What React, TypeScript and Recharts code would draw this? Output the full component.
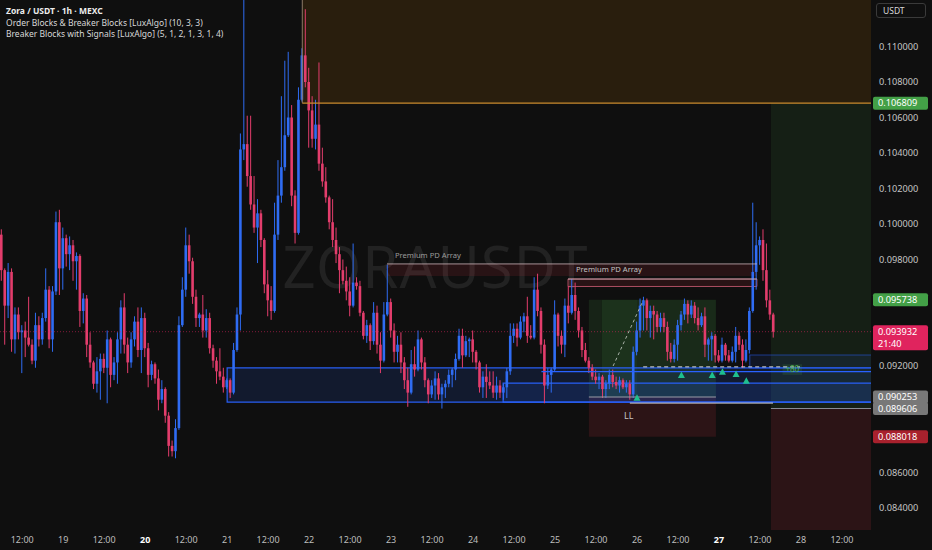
import {
  ComposedChart,
  Bar,
  Scatter,
  XAxis,
  YAxis,
  ReferenceArea,
  ReferenceLine,
  ReferenceDot,
} from "recharts";

// hourly bars, index = hours since 18 Oct 00:00
const FIRST_BAR = 6;

const OPENS = [
  0.0994, 0.0974, 0.0954, 0.0973, 0.0935, 0.0949, 0.0939, 0.094, 0.0936, 0.0932,
  0.0923, 0.0943, 0.0935, 0.0947, 0.0963, 0.0935, 0.0962, 0.1001, 0.0975, 0.0992,
  0.0983, 0.0988, 0.0979, 0.0982, 0.0951, 0.0958, 0.0932, 0.0922, 0.091, 0.0917,
  0.0924, 0.0919, 0.0935, 0.0915, 0.0922, 0.0935, 0.0953, 0.0932, 0.0922, 0.0935,
  0.0945, 0.0929, 0.0947, 0.093, 0.0915, 0.0921, 0.0913, 0.0901, 0.0907, 0.0892,
  0.0875, 0.0872, 0.0885, 0.0943, 0.0963, 0.0988, 0.0979, 0.0959, 0.0947, 0.0949,
  0.094, 0.0947, 0.093, 0.0923, 0.0917, 0.0914, 0.0908, 0.0912, 0.0905, 0.0929,
  0.0949, 0.1042, 0.1045, 0.1027, 0.1011, 0.0998, 0.1006, 0.0991, 0.0966, 0.0957,
  0.0951, 0.0994, 0.1016, 0.1032, 0.105, 0.106, 0.1016, 0.0995, 0.107, 0.1095,
  0.108, 0.1064, 0.1048, 0.1056, 0.1034, 0.1024, 0.1015, 0.1001, 0.0991, 0.0983,
  0.0974, 0.0968, 0.0962, 0.0954, 0.0967, 0.0965, 0.095, 0.0937, 0.0943, 0.0934,
  0.095, 0.0932, 0.0923, 0.0949, 0.0956, 0.094, 0.0928, 0.0932, 0.0922, 0.0912,
  0.0905, 0.0921, 0.0918, 0.0935, 0.0922, 0.0912, 0.0904, 0.0909, 0.0913, 0.0904,
  0.0908, 0.091, 0.0915, 0.0918, 0.0924, 0.0937, 0.0926, 0.0934, 0.0935, 0.0928,
  0.0922, 0.0908, 0.0914, 0.0911, 0.0909, 0.0905, 0.0909, 0.0905, 0.0908, 0.0917,
  0.0937, 0.0941, 0.0936, 0.0945, 0.0948, 0.0937, 0.0936, 0.0963, 0.0951, 0.0932,
  0.0909, 0.0915, 0.0918, 0.0949, 0.0937, 0.0932, 0.0954, 0.095, 0.096, 0.0951,
  0.094, 0.0929, 0.0923, 0.0919, 0.0914, 0.0912, 0.0914, 0.0907, 0.091, 0.0915,
  0.0911, 0.0909, 0.0912, 0.0908, 0.091, 0.0904, 0.0928, 0.094, 0.0954, 0.0957,
  0.0947, 0.0951, 0.0949, 0.0942, 0.0947, 0.0942, 0.0928, 0.0924, 0.0932, 0.0943,
  0.0949, 0.0955, 0.0949, 0.0954, 0.0947, 0.0943, 0.0948, 0.0932, 0.0935, 0.0937,
  0.0926, 0.0923, 0.0932, 0.0926, 0.0923, 0.0928, 0.0937, 0.0932, 0.0923, 0.0929,
  0.0951, 0.0973, 0.0988, 0.0991, 0.0974, 0.0957, 0.0949,
];

const HIGHS = [
  0.0997, 0.0975, 0.0978, 0.0975, 0.0953, 0.0953, 0.0943, 0.0945, 0.0959, 0.0935,
  0.095, 0.0948, 0.095, 0.0975, 0.0965, 0.0965, 0.1007, 0.1008, 0.0998, 0.0994,
  0.0993, 0.0991, 0.0984, 0.0983, 0.0961, 0.096, 0.0939, 0.0923, 0.0925, 0.0927,
  0.0927, 0.094, 0.0936, 0.0925, 0.0939, 0.0957, 0.0961, 0.0936, 0.0939, 0.0948,
  0.0953, 0.0953, 0.095, 0.0933, 0.0923, 0.0922, 0.0918, 0.0912, 0.0908, 0.0894,
  0.0878, 0.089, 0.0948, 0.097, 0.0998, 0.0994, 0.0981, 0.0963, 0.095, 0.096,
  0.0952, 0.095, 0.0932, 0.0925, 0.093, 0.0919, 0.0913, 0.0913, 0.0933, 0.0953,
  0.1051, 0.1132, 0.1061, 0.1061, 0.1027, 0.1014, 0.1008, 0.0992, 0.0974, 0.0965,
  0.1012, 0.1036, 0.1072, 0.1092, 0.1097, 0.1067, 0.1019, 0.1077, 0.1099, 0.1121,
  0.1088, 0.1072, 0.107, 0.1091, 0.1043, 0.1032, 0.1016, 0.1014, 0.0998, 0.0987,
  0.098, 0.0976, 0.097, 0.0989, 0.097, 0.0968, 0.0951, 0.0946, 0.0944, 0.0956,
  0.0954, 0.0939, 0.0956, 0.0977, 0.0958, 0.0944, 0.0937, 0.0939, 0.0925, 0.0919,
  0.0929, 0.0931, 0.094, 0.0936, 0.0925, 0.0913, 0.0912, 0.0917, 0.0916, 0.091,
  0.0912, 0.0918, 0.0919, 0.0927, 0.0941, 0.0941, 0.0937, 0.0936, 0.094, 0.0929,
  0.0923, 0.0917, 0.0921, 0.0917, 0.0917, 0.0914, 0.0912, 0.091, 0.0919, 0.0944,
  0.0944, 0.0944, 0.0948, 0.095, 0.0959, 0.0943, 0.097, 0.0972, 0.0953, 0.0935,
  0.0919, 0.0919, 0.0957, 0.095, 0.094, 0.0958, 0.0965, 0.0969, 0.0967, 0.0953,
  0.0942, 0.0933, 0.0925, 0.0921, 0.0918, 0.0916, 0.0915, 0.0912, 0.0918, 0.0918,
  0.0914, 0.0914, 0.0913, 0.0912, 0.0912, 0.0931, 0.0945, 0.0958, 0.0959, 0.0958,
  0.0954, 0.0954, 0.0951, 0.095, 0.095, 0.0945, 0.0933, 0.0935, 0.0946, 0.0951,
  0.0958, 0.0957, 0.0957, 0.0956, 0.0953, 0.095, 0.0953, 0.0936, 0.0939, 0.0938,
  0.0929, 0.0936, 0.0933, 0.0929, 0.0931, 0.0942, 0.0939, 0.0935, 0.0935, 0.0953,
  0.1012, 0.1001, 0.0993, 0.0997, 0.0989, 0.0963, 0.095,
];

const LOWS = [
  0.0968, 0.0932, 0.0947, 0.0928, 0.0927, 0.0935, 0.0916, 0.0925, 0.0931, 0.0921,
  0.0919, 0.0931, 0.0932, 0.0945, 0.093, 0.0928, 0.096, 0.096, 0.0963, 0.0976,
  0.0974, 0.0968, 0.0963, 0.0942, 0.0944, 0.0925, 0.0919, 0.0907, 0.0905, 0.0901,
  0.0916, 0.0899, 0.0908, 0.0912, 0.091, 0.0927, 0.0927, 0.0916, 0.0919, 0.0931,
  0.0925, 0.0916, 0.0925, 0.0908, 0.0912, 0.091, 0.0895, 0.0899, 0.0888, 0.0869,
  0.0869, 0.0868, 0.0884, 0.0942, 0.0959, 0.0972, 0.0955, 0.0942, 0.0942, 0.0936,
  0.0936, 0.0927, 0.0919, 0.091, 0.0912, 0.0905, 0.0907, 0.0902, 0.0904, 0.0928,
  0.094, 0.1036, 0.1021, 0.1008, 0.0995, 0.0978, 0.0987, 0.0961, 0.0948, 0.0946,
  0.095, 0.0991, 0.1012, 0.103, 0.1049, 0.101, 0.0989, 0.0994, 0.1069, 0.1077,
  0.1043, 0.1043, 0.1042, 0.103, 0.1021, 0.1012, 0.0997, 0.0987, 0.0978, 0.0961,
  0.0966, 0.0957, 0.0948, 0.0953, 0.0963, 0.0948, 0.0935, 0.0933, 0.0929, 0.0932,
  0.0927, 0.0916, 0.0922, 0.0948, 0.0936, 0.0922, 0.0922, 0.0916, 0.0907, 0.0897,
  0.0904, 0.0914, 0.0917, 0.0918, 0.0908, 0.0899, 0.0902, 0.0901, 0.0901, 0.0896,
  0.0902, 0.0908, 0.0908, 0.0912, 0.0923, 0.0919, 0.0925, 0.0925, 0.0922, 0.0918,
  0.0905, 0.0902, 0.0902, 0.0907, 0.0902, 0.0901, 0.0902, 0.0901, 0.0902, 0.0915,
  0.0933, 0.0931, 0.0935, 0.0939, 0.0933, 0.0935, 0.0935, 0.0948, 0.0927, 0.0899,
  0.0907, 0.0905, 0.0917, 0.0931, 0.0927, 0.0925, 0.0944, 0.0949, 0.0946, 0.0936,
  0.0925, 0.0922, 0.0916, 0.0912, 0.091, 0.0907, 0.0902, 0.0902, 0.0907, 0.0908,
  0.0907, 0.0905, 0.0907, 0.0905, 0.0901, 0.0902, 0.0926, 0.0936, 0.094, 0.094,
  0.0936, 0.0935, 0.0939, 0.0939, 0.0939, 0.0923, 0.0922, 0.0922, 0.0923, 0.094,
  0.0946, 0.0944, 0.0947, 0.0944, 0.094, 0.0942, 0.0925, 0.0923, 0.0923, 0.0922,
  0.0922, 0.0922, 0.0923, 0.0922, 0.0922, 0.0922, 0.0929, 0.0919, 0.0922, 0.0927,
  0.095, 0.0963, 0.0977, 0.0968, 0.0953, 0.0946, 0.0936,
];

const CLOSES = [
  0.0974, 0.0954, 0.0973, 0.0935, 0.0949, 0.0939, 0.094, 0.0936, 0.0932, 0.0923,
  0.0943, 0.0935, 0.0947, 0.0963, 0.0935, 0.0962, 0.1001, 0.0975, 0.0992, 0.0983,
  0.0988, 0.0979, 0.0982, 0.0951, 0.0958, 0.0932, 0.0922, 0.091, 0.0917, 0.0924,
  0.0919, 0.0935, 0.0915, 0.0922, 0.0935, 0.0953, 0.0932, 0.0922, 0.0935, 0.0945,
  0.0929, 0.0947, 0.093, 0.0915, 0.0921, 0.0913, 0.0901, 0.0907, 0.0892, 0.0875,
  0.0872, 0.0885, 0.0943, 0.0963, 0.0988, 0.0979, 0.0959, 0.0947, 0.0949, 0.094,
  0.0947, 0.093, 0.0923, 0.0917, 0.0914, 0.0908, 0.0912, 0.0905, 0.0929, 0.0949,
  0.1042, 0.1045, 0.1027, 0.1011, 0.0998, 0.1006, 0.0991, 0.0966, 0.0957, 0.0951,
  0.0994, 0.1016, 0.1032, 0.105, 0.106, 0.1016, 0.0995, 0.107, 0.1095, 0.108,
  0.1064, 0.1048, 0.1056, 0.1034, 0.1024, 0.1015, 0.1001, 0.0991, 0.0983, 0.0974,
  0.0968, 0.0962, 0.0954, 0.0967, 0.0965, 0.095, 0.0937, 0.0943, 0.0934, 0.095,
  0.0932, 0.0923, 0.0949, 0.0956, 0.094, 0.0928, 0.0932, 0.0922, 0.0912, 0.0905,
  0.0921, 0.0918, 0.0935, 0.0922, 0.0912, 0.0904, 0.0909, 0.0913, 0.0904, 0.0908,
  0.091, 0.0915, 0.0918, 0.0924, 0.0937, 0.0926, 0.0934, 0.0935, 0.0928, 0.0922,
  0.0908, 0.0914, 0.0911, 0.0909, 0.0905, 0.0909, 0.0905, 0.0908, 0.0917, 0.0937,
  0.0941, 0.0936, 0.0945, 0.0948, 0.0937, 0.0936, 0.0963, 0.0951, 0.0932, 0.0909,
  0.0915, 0.0918, 0.0949, 0.0937, 0.0932, 0.0954, 0.095, 0.096, 0.0951, 0.094,
  0.0929, 0.0923, 0.0919, 0.0914, 0.0912, 0.0914, 0.0907, 0.091, 0.0915, 0.0911,
  0.0909, 0.0912, 0.0908, 0.091, 0.0904, 0.0928, 0.094, 0.0954, 0.0957, 0.0947,
  0.0951, 0.0949, 0.0942, 0.0947, 0.0942, 0.0928, 0.0924, 0.0932, 0.0943, 0.0949,
  0.0955, 0.0949, 0.0954, 0.0947, 0.0943, 0.0948, 0.0932, 0.0935, 0.0937, 0.0926,
  0.0923, 0.0932, 0.0926, 0.0923, 0.0928, 0.0937, 0.0932, 0.0923, 0.0929, 0.0951,
  0.0973, 0.0988, 0.0991, 0.0974, 0.0957, 0.0949, 0.093932,
];

const TIME_TICKS = [
  12, 24, 36, 48, 60, 72, 84, 96, 108, 120, 132, 144, 156, 168, 180, 192, 204,
  216, 228, 240, 252,
];
const FIRST_DAY = 18;
const BOLD_DAYS = [20, 27];

const PRICE_TICKS = [
  0.084, 0.086, 0.092, 0.098, 0.1, 0.102, 0.104, 0.106, 0.108, 0.11,
];

// zones: bar index range + price range
const ORDER_BLOCKS = [
  { from: 72, top: 0.09189, bottom: 0.08997 },
  { from: 152.8, top: 0.09104, bottom: 0.08997 },
  { from: 225, top: 0.09262, bottom: 0.09189 },
];

const PD_ARRAYS = [
  { from: 118.8, to: 227.1, top: 0.09775, bottom: 0.09707 },
  { from: 171.8, to: 227.1, top: 0.0969, bottom: 0.09648 },
];

const SUPPLY_ZONE = { from: 94, bottom: 0.106809 };

const POSITIONS = [
  { from: 177.9, to: 215.1, entry: 0.090253, target: 0.095738, stop: 0.088018 },
  { from: 231.2, to: 262, entry: 0.089606, target: 0.106809, stop: 0.0815 },
];

const SIGNALS = [
  { i: 192, p: 0.09021 },
  { i: 205, p: 0.09149 },
  { i: 214, p: 0.09149 },
  { i: 217, p: 0.09168 },
  { i: 221, p: 0.09155 },
  { i: 224, p: 0.09117 },
];

const LAST_PRICE = 0.093932;
const COUNTDOWN = "21:40";

const PRICE_TAGS = [
  { value: 0.106809, bg: "#43a047" },
  { value: 0.095738, bg: "#43a047" },
  { value: 0.090253, bg: "#787878" },
  { value: 0.089606, bg: "#787878" },
  { value: 0.088018, bg: "#a8212d" },
];

const PRICE_MIN = 0.08276;
const PRICE_MAX = 0.11262;
const X_MIN = 5.5;
const X_MAX = 260.5;

const UP = "#2f6cf3";
const DOWN = "#e33d6c";
const BLUE_ZONE = "#2962ff";

const candles = OPENS.map((o, k) => ({
  i: FIRST_BAR + k,
  open: o,
  high: HIGHS[k],
  low: LOWS[k],
  close: CLOSES[k],
  range: [LOWS[k], HIGHS[k]],
}));

function Candle(props: any) {
  const { x, y, width, height, payload } = props;
  if (!payload || height == null || isNaN(y)) return null;
  const top = Math.min(y, y + height);
  const h = Math.abs(height);
  const span = payload.high - payload.low || 1e-9;
  const py = (v: number) => top + ((payload.high - v) / span) * h;
  const color = payload.close >= payload.open ? UP : DOWN;
  const b1 = py(Math.max(payload.open, payload.close));
  const b2 = py(Math.min(payload.open, payload.close));
  const cx = x + width / 2;
  return (
    <g>
      <line x1={cx} x2={cx} y1={top} y2={top + h} stroke={color} strokeWidth={1} />
      <rect x={x} y={b1} width={width} height={Math.max(1, b2 - b1)} fill={color} />
    </g>
  );
}

function Triangle(props: any) {
  const { cx, cy } = props;
  if (cx == null || cy == null) return null;
  return (
    <path
      d={`M${cx},${cy - 3.5} L${cx + 3.5},${cy + 3} L${cx - 3.5},${cy + 3} Z`}
      fill="#1fbf8f"
    />
  );
}

function TimeTick(props: any) {
  const { x, y, payload } = props;
  const v = payload.value;
  const isDay = v % 24 === 0;
  const day = FIRST_DAY + v / 24;
  const bold = isDay && BOLD_DAYS.includes(day);
  return (
    <text
      x={x}
      y={y + 5}
      textAnchor="middle"
      fontSize={9}
      fill={bold ? "#ffffff" : "#bdbdbd"}
      fontWeight={bold ? 700 : 400}
    >
      {isDay ? String(day) : "12:00"}
    </text>
  );
}

const tagLabel =
  (text: string, bg: string, sub?: string) => (props: any) => {
    const vb = props.viewBox;
    if (!vb) return null;
    const x = vb.x + vb.width + 2;
    const y = vb.y;
    return (
      <g>
        <rect x={x} y={y - 6.5} width={55} height={sub ? 25 : 13} rx={2} fill={bg} />
        <text x={x + 5} y={y + 3.2} fontSize={9.2} fill="#ffffff">
          {text}
        </text>
        {sub && (
          <text x={x + 5} y={y + 15} fontSize={9.2} fill="#ffffff">
            {sub}
          </text>
        )}
      </g>
    );
  };

const pdLabel = (dy: number, color: string) => (props: any) => {
  const vb = props.viewBox;
  if (!vb) return null;
  return (
    <text x={vb.x + 8} y={vb.y - dy} fontSize={7.6} fill={color}>
      Premium PD Array
    </text>
  );
};

export default function App() {
  return (
    <div
      style={{
        position: "fixed",
        left: 0,
        top: 0,
        width: 932,
        height: 550,
        background: "#0f0f0f",
        overflow: "hidden",
        fontFamily: "'Noto Sans', sans-serif",
      }}
    >
      <div
        style={{
          position: "absolute",
          left: 0,
          top: 236,
          width: 871,
          textAlign: "center",
          fontSize: 58,
          lineHeight: "60px",
          color: "#222222",
          letterSpacing: 1,
        }}
      >
        ZORAUSDT
      </div>

      <div style={{ position: "absolute", left: 0, top: 0 }}>
        <ComposedChart
          width={932}
          height={550}
          data={candles}
          margin={{ top: 0, right: 0, bottom: 0, left: 0 }}
        >
          <XAxis
            dataKey="i"
            type="number"
            domain={[X_MIN, X_MAX]}
            allowDataOverflow
            ticks={TIME_TICKS}
            interval={0}
            tick={<TimeTick />}
            axisLine={false}
            tickLine={false}
            height={20}
          />
          <YAxis
            orientation="right"
            type="number"
            domain={[PRICE_MIN, PRICE_MAX]}
            allowDataOverflow
            ticks={PRICE_TICKS}
            interval={0}
            tickFormatter={(v: number) => v.toFixed(6)}
            tick={{ fill: "#c4c4c4", fontSize: 9.2 }}
            axisLine={false}
            tickLine={false}
            width={61}
          />

          {/* supply zone at the top */}
          <ReferenceArea
            x1={SUPPLY_ZONE.from}
            x2={262}
            y1={SUPPLY_ZONE.bottom}
            y2={0.114}
            ifOverflow="hidden"
            fill="rgba(255,152,0,0.22)"
            stroke="none"
          />
          <ReferenceLine
            segment={[
              { x: SUPPLY_ZONE.from, y: SUPPLY_ZONE.bottom },
              { x: 262, y: SUPPLY_ZONE.bottom },
            ]}
            ifOverflow="hidden"
            stroke="#c98a2e"
            strokeWidth={1.2}
          />
          <ReferenceLine
            segment={[
              { x: SUPPLY_ZONE.from, y: SUPPLY_ZONE.bottom },
              { x: SUPPLY_ZONE.from, y: 0.114 },
            ]}
            ifOverflow="hidden"
            stroke="#8c7a66"
            strokeWidth={1}
          />

          {/* long positions */}
          {POSITIONS.map((p, k) => (
            <ReferenceArea
              key={`pg${k}`}
              x1={p.from}
              x2={p.to}
              y1={p.entry}
              y2={p.target}
              ifOverflow="hidden"
              fill={k === 0 ? "rgba(76,175,80,0.25)" : "rgba(76,175,80,0.2)"}
              stroke="none"
            />
          ))}
          {POSITIONS.map((p, k) => (
            <ReferenceArea
              key={`pr${k}`}
              x1={p.from}
              x2={p.to}
              y1={p.stop}
              y2={p.entry}
              ifOverflow="hidden"
              fill="rgba(242,54,69,0.26)"
              stroke="none"
            />
          ))}
          <ReferenceArea
            x1={181.7}
            x2={215.1}
            y1={POSITIONS[0].entry}
            y2={POSITIONS[0].target}
            ifOverflow="hidden"
            fill="rgba(76,175,80,0.1)"
            stroke="none"
          />
          <ReferenceArea
            x1={181.7}
            x2={192}
            y1={POSITIONS[0].entry}
            y2={POSITIONS[0].target}
            ifOverflow="hidden"
            fill="rgba(76,175,80,0.12)"
            stroke="none"
          />

          {/* premium PD arrays */}
          {PD_ARRAYS.map((z, k) => (
            <ReferenceArea
              key={`pd${k}`}
              x1={z.from}
              x2={z.to}
              y1={z.bottom}
              y2={z.top}
              ifOverflow="hidden"
              fill="rgba(242,54,69,0.22)"
              stroke={k === 1 ? "rgba(220,100,125,0.75)" : "none"}
              label={pdLabel(k === 0 ? 6 : 7, k === 0 ? "#9a9a9a" : "#c2c2c2")}
            />
          ))}
          {PD_ARRAYS.map((z, k) => (
            <ReferenceLine
              key={`pdt${k}`}
              segment={[
                { x: z.from, y: z.top },
                { x: z.to, y: z.top },
              ]}
              ifOverflow="hidden"
              stroke="rgba(215,190,195,0.75)"
            />
          ))}

          {/* breaker / order blocks */}
          {ORDER_BLOCKS.map((z, k) => (
            <ReferenceArea
              key={`ob${k}`}
              x1={z.from}
              x2={262}
              y1={z.bottom}
              y2={z.top}
              ifOverflow="hidden"
              fill={k === 2 ? "rgba(41,98,255,0.18)" : "rgba(41,98,255,0.26)"}
              stroke={BLUE_ZONE}
              strokeOpacity={k === 2 ? 0.5 : 0.95}
              strokeWidth={1.2}
            />
          ))}
          <ReferenceLine
            segment={[
              { x: 164, y: 0.09168 },
              { x: 262, y: 0.09168 },
            ]}
            ifOverflow="hidden"
            stroke={BLUE_ZONE}
            strokeWidth={1.2}
          />

          {/* position entry lines and trade path */}
          <ReferenceLine
            segment={[
              { x: POSITIONS[0].from, y: POSITIONS[0].entry },
              { x: POSITIONS[0].to, y: POSITIONS[0].entry },
            ]}
            ifOverflow="hidden"
            stroke="#9a9da6"
          />
          <ReferenceLine
            segment={[
              { x: 189.9, y: 0.08991 },
              { x: 231.8, y: 0.08991 },
            ]}
            ifOverflow="hidden"
            stroke="#d0d0d0"
          />
          <ReferenceLine
            segment={[
              { x: POSITIONS[1].from, y: POSITIONS[1].entry },
              { x: 262, y: POSITIONS[1].entry },
            ]}
            ifOverflow="hidden"
            stroke="#8a8d96"
          />
          <ReferenceLine
            segment={[
              { x: 185, y: 0.092 },
              { x: 193.8, y: 0.0957 },
            ]}
            ifOverflow="hidden"
            stroke="#a9b3a9"
            strokeDasharray="3 3"
          />
          <ReferenceLine
            segment={[
              { x: 193.8, y: 0.09195 },
              { x: 239.7, y: 0.09195 },
            ]}
            ifOverflow="hidden"
            stroke="#d8d8d8"
            strokeDasharray="4 3"
          />
          <ReferenceArea
            x1={234.6}
            x2={240.3}
            y1={0.0915}
            y2={0.0921}
            ifOverflow="hidden"
            fill="rgba(76,175,80,0.3)"
            stroke="none"
            label={{ value: "+80", position: "center", fill: "#4caf50", fontSize: 8 }}
          />
          <ReferenceDot
            x={189.6}
            y={0.08918}
            r={0}
            fill="none"
            stroke="none"
            label={{ value: "LL", position: "center", fill: "#c4c4c4", fontSize: 9 }}
          />

          {/* last price */}
          <ReferenceLine
            y={LAST_PRICE}
            stroke="#e0245e"
            strokeOpacity={0.55}
            strokeDasharray="1 2"
          />

          <Bar
            dataKey="range"
            barSize={2.6}
            shape={<Candle />}
            isAnimationActive={false}
          />
          <Scatter
            data={SIGNALS}
            dataKey="p"
            shape={<Triangle />}
            isAnimationActive={false}
          />

          {PRICE_TAGS.map((t) => (
            <ReferenceLine
              key={`tag${t.value}`}
              y={t.value}
              stroke="none"
              label={tagLabel(t.value.toFixed(6), t.bg)}
            />
          ))}
          <ReferenceLine
            y={LAST_PRICE}
            stroke="none"
            label={tagLabel(LAST_PRICE.toFixed(6), "#e0245e", COUNTDOWN)}
          />
        </ComposedChart>
      </div>

      <div
        style={{
          position: "absolute",
          left: 6,
          top: 5,
          fontSize: 8.5,
          lineHeight: "11.7px",
          color: "#d8d8d8",
        }}
      >
        <div style={{ fontWeight: 700, color: "#ececec" }}>Zora / USDT · 1h · MEXC</div>
        <div>Order Blocks &amp; Breaker Blocks [LuxAlgo] (10, 3, 3)</div>
        <div>Breaker Blocks with Signals [LuxAlgo] (5, 1, 2, 1, 3, 1, 4)</div>
      </div>

      <div
        style={{
          position: "absolute",
          left: 876,
          top: 3,
          width: 50,
          height: 15,
          border: "1px solid #3a3a3a",
          borderRadius: 3,
          boxSizing: "border-box",
          fontSize: 8.5,
          lineHeight: "13px",
          paddingLeft: 6,
          color: "#d8d8d8",
        }}
      >
        USDT
      </div>
    </div>
  );
}
